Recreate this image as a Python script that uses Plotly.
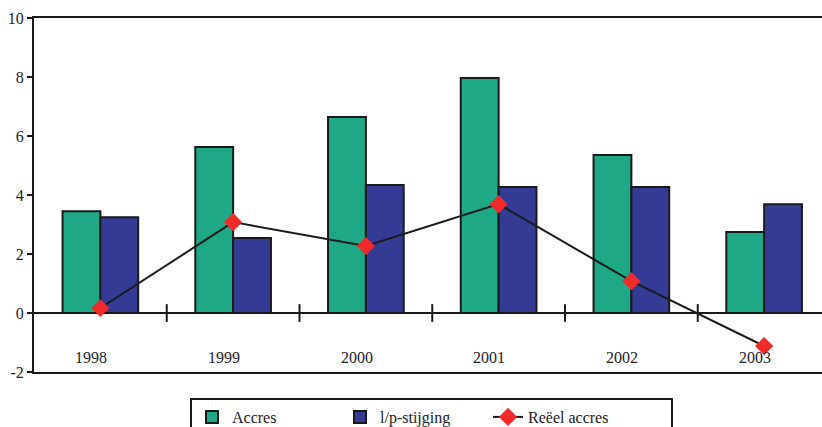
import plotly.graph_objects as go

years = ["1998", "1999", "2000", "2001", "2002", "2003"]
accres = [3.45, 5.63, 6.64, 7.97, 5.36, 2.75]
lp_stijging = [3.25, 2.54, 4.34, 4.27, 4.27, 3.69]
reeel_accres = [0.17, 3.08, 2.27, 3.69, 1.08, -1.12]
yticks = [-2, 0, 2, 4, 6, 8, 10]

W, H = 822, 427
L, R, T, B = 34, 0, 18, 55
pw = W - L - R
ph = H - T - B

def px_x(p):
    return (p - L) / pw

def px_y(p):
    return (H - B - p) / ph

xs = list(range(len(years)))
font = "Liberation Serif, Times New Roman, serif"

fig = go.Figure()
fig.add_trace(go.Bar(x=xs, y=accres, name="Accres",
                     marker=dict(color="#1fa886", line=dict(color="#1a1a1a", width=2))))
fig.add_trace(go.Bar(x=xs, y=lp_stijging, name="l/p-stijging",
                     marker=dict(color="#343b95", line=dict(color="#1a1a1a", width=2))))
fig.add_trace(go.Scatter(x=xs, y=reeel_accres, name="Reëel accres", mode="lines+markers",
                         line=dict(color="#1a1a1a", width=2),
                         marker=dict(symbol="diamond", size=14, color="#ee2a2a")))

# category separator ticks on zero line
for i in range(len(years) - 1):
    fig.add_shape(type="line", xref="x", yref="y", x0=i + 0.5, x1=i + 0.5, y0=-0.3, y1=0.3,
                  line=dict(color="#1a1a1a", width=2))

# year labels
for i, yv in enumerate(years):
    fig.add_annotation(x=i - 0.07, y=-1.5, xref="x", yref="y", text=yv, showarrow=False,
                       font=dict(family=font, size=16, color="#222"))

# legend box
fig.add_shape(type="rect", xref="paper", yref="paper",
              x0=px_x(191), x1=px_x(672), y0=px_y(440), y1=px_y(399),
              line=dict(color="#1a1a1a", width=2), fillcolor="rgba(0,0,0,0)")

cat_w = 132.75
fig.update_layout(
    width=W, height=H,
    margin=dict(l=L, r=R, t=T, b=B, autoexpand=False),
    paper_bgcolor="white", plot_bgcolor="white",
    barmode="group", bargap=0.43, bargroupgap=0,
    font=dict(family=font, size=15, color="#222"),
    showlegend=True,
    legend=dict(orientation="h", x=px_x(192), y=px_y(400), xanchor="left", yanchor="top",
                entrywidth=103, entrywidthmode="pixels",
                font=dict(family=font, size=16, color="#222"),
                bgcolor="rgba(0,0,0,0)", borderwidth=0),
    xaxis=dict(range=[-0.5, 5.5 - (L + 6 * cat_w - W) / cat_w], showticklabels=False,
               ticks="", showgrid=False, zeroline=False,
               showline=True, linecolor="#1a1a1a", linewidth=2, mirror=True),
    yaxis=dict(range=[-2, 10], tickvals=yticks, ticktext=[str(v) for v in yticks],
               ticks="outside", ticklen=5, tickwidth=2, tickcolor="#1a1a1a",
               showgrid=False, zeroline=True, zerolinecolor="#1a1a1a", zerolinewidth=2,
               showline=True, linecolor="#1a1a1a", linewidth=2,
               tickfont=dict(family=font, size=16, color="#222")),
)

fig.write_html("out.html")
